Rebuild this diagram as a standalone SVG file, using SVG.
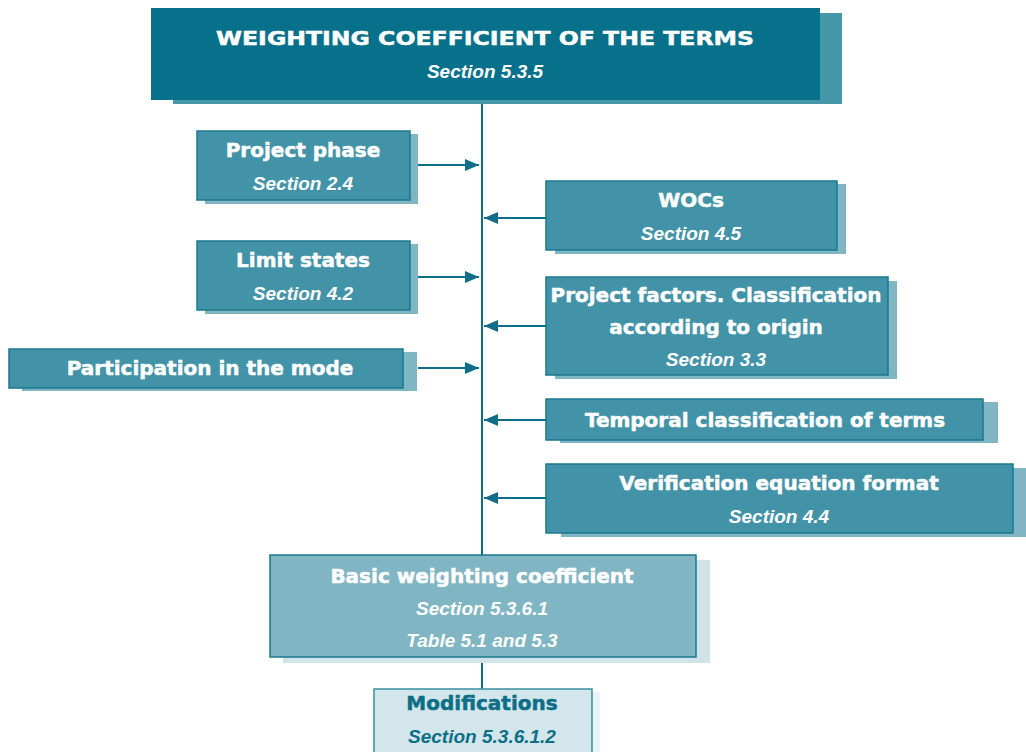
<svg xmlns="http://www.w3.org/2000/svg" width="1026" height="752" viewBox="0 0 1026 752">
  <style>
    .t { font-family: "DejaVu Sans", "Liberation Sans", sans-serif; font-weight: bold; font-size: 20px; fill: #ffffff; stroke: #ffffff; stroke-width: 0.5; text-anchor: middle; }
    .s { font-family: "Liberation Sans", "DejaVu Sans", sans-serif; font-weight: bold; font-style: italic; font-size: 19px; fill: #ffffff; text-anchor: middle; }
    .box { fill: #4393a8; stroke: #1a7890; stroke-width: 1.5; }
    .shadow { fill: #80b5c3; }
    .link { stroke: #0d6f87; stroke-width: 2; fill: none; }
    .dark { fill: #0d6f87; stroke: #0d6f87; }
    .s.dark { stroke: none; }
  </style>
  <defs>
    <marker id="arrow" viewBox="0 0 14 12" refX="14" refY="6" markerWidth="14" markerHeight="12" markerUnits="userSpaceOnUse" orient="auto">
      <path d="M0,0 L14,6 L0,12 z" fill="#0d6f87"/>
    </marker>
  </defs>
  <rect width="1026" height="752" fill="#ffffff"/>

  <!-- spine and branch arrows -->
  <g id="connectors">
    <line class="link" x1="482" y1="100" x2="482" y2="556"/>
    <line class="link" x1="482" y1="657" x2="482" y2="690"/>
    <line class="link" x1="418" y1="165" x2="479" y2="165" marker-end="url(#arrow)"/>
    <line class="link" x1="418" y1="277" x2="479" y2="277" marker-end="url(#arrow)"/>
    <line class="link" x1="418" y1="368" x2="479" y2="368" marker-end="url(#arrow)"/>
    <line class="link" x1="546" y1="218" x2="484" y2="218" marker-end="url(#arrow)"/>
    <line class="link" x1="546" y1="326" x2="484" y2="326" marker-end="url(#arrow)"/>
    <line class="link" x1="546" y1="420" x2="484" y2="420" marker-end="url(#arrow)"/>
    <line class="link" x1="546" y1="498" x2="484" y2="498" marker-end="url(#arrow)"/>
  </g>

  <g id="title">
    <rect x="173" y="13" width="669" height="91" fill="#4596a9"/>
    <rect x="151" y="8" width="669" height="92" fill="#07708a"/>
    <text class="t" x="485" y="45" font-size="23" textLength="538" lengthAdjust="spacingAndGlyphs">WEIGHTING COEFFICIENT OF THE TERMS</text>
    <text class="s" x="485" y="78">Section 5.3.5</text>
  </g>

  <g id="project-phase">
    <rect class="shadow" x="205" y="134" width="213" height="70"/>
    <rect class="box" x="197" y="131" width="213" height="69"/>
    <text class="t" x="303" y="157">Project phase</text>
    <text class="s" x="303" y="190">Section 2.4</text>
  </g>

  <g id="limit-states">
    <rect class="shadow" x="205" y="244" width="213" height="70"/>
    <rect class="box" x="197" y="241" width="213" height="69"/>
    <text class="t" x="303" y="267">Limit states</text>
    <text class="s" x="303" y="300">Section 4.2</text>
  </g>

  <g id="participation">
    <rect class="shadow" x="22" y="352" width="395" height="39"/>
    <rect class="box" x="9" y="349" width="394" height="39"/>
    <text class="t" x="210" y="375">Participation in the mode</text>
  </g>

  <g id="wocs">
    <rect class="shadow" x="555" y="184" width="291" height="70"/>
    <rect class="box" x="546" y="181" width="291" height="69"/>
    <text class="t" x="691" y="207">WOCs</text>
    <text class="s" x="691" y="240">Section 4.5</text>
  </g>

  <g id="project-factors">
    <rect class="shadow" x="555" y="281" width="342" height="98"/>
    <rect class="box" x="546" y="277" width="342" height="98"/>
    <text class="t" x="716" y="302">Project factors. Classification</text>
    <text class="t" x="716" y="334">according to origin</text>
    <text class="s" x="716" y="366">Section 3.3</text>
  </g>

  <g id="temporal">
    <rect class="shadow" x="560" y="402" width="438" height="41"/>
    <rect class="box" x="546" y="399" width="437" height="41"/>
    <text class="t" x="765" y="427">Temporal classification of terms</text>
  </g>

  <g id="verification">
    <rect class="shadow" x="561" y="468" width="465" height="69"/>
    <rect class="box" x="546" y="464" width="467" height="69"/>
    <text class="t" x="779" y="490">Verification equation format</text>
    <text class="s" x="779" y="523">Section 4.4</text>
  </g>

  <g id="basic-coefficient">
    <rect x="283" y="560" width="427" height="103" fill="#d0e3e8"/>
    <rect x="270" y="555" width="426" height="102" fill="#80b5c3" stroke="#1a7890" stroke-width="1.5"/>
    <text class="t" x="482" y="583">Basic weighting coefficient</text>
    <text class="s" x="482" y="615">Section 5.3.6.1</text>
    <text class="s" x="482" y="647">Table 5.1 and 5.3</text>
  </g>

  <g id="modifications">
    <rect x="380" y="692" width="220" height="62" fill="#eaf3f5"/>
    <rect x="374" y="689" width="218" height="65" fill="#d3e6eb" stroke="#3a8ea0" stroke-width="1.5"/>
    <text class="t dark" x="482" y="710">Modifications</text>
    <text class="s dark" x="482" y="743">Section 5.3.6.1.2</text>
  </g>
</svg>
